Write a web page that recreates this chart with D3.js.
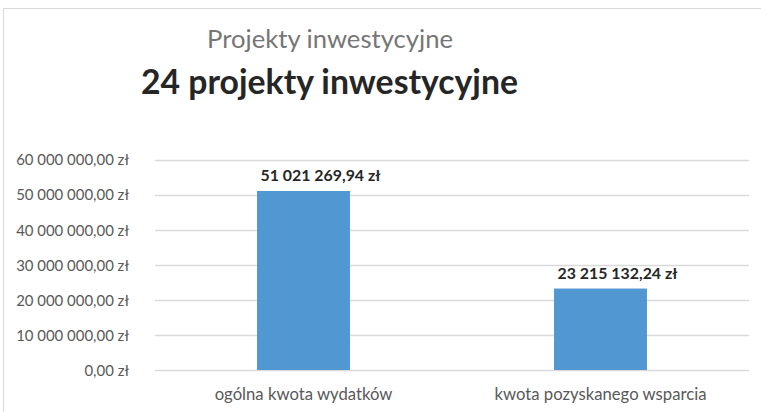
<!DOCTYPE html>
<html>
<head>
<meta charset="utf-8">
<script src="https://cdn.jsdelivr.net/npm/d3@7"></script>
<style>
  html, body { margin: 0; padding: 0; background: #fff; }
  svg { display: block; font-family: Lato, "Open Sans", sans-serif; }
</style>
</head>
<body>
<svg id="chart" width="761" height="412"></svg>
<script>
const categories = ["ogólna kwota wydatków", "kwota pozyskanego wsparcia"];
const values = [51021269.94, 23215132.24];
const valueLabels = ["51 021 269,94 zł", "23 215 132,24 zł"];
const yTicks = [0, 10000000, 20000000, 30000000, 40000000, 50000000, 60000000];
const yTickLabels = ["0,00 zł", "10 000 000,00 zł", "20 000 000,00 zł", "30 000 000,00 zł", "40 000 000,00 zł", "50 000 000,00 zł", "60 000 000,00 zł"];
const title1 = "Projekty inwestycyjne";
const title2 = "24 projekty inwestycyjne";

(function () {
const svg = d3.select("#chart");

// chart area border
svg.append("rect").attr("x", 3.5).attr("y", 8.5).attr("width", 820).attr("height", 500)
  .attr("fill", "#fff").attr("stroke", "#d9d9d9").attr("stroke-width", 1);

const pLeft = 155, pRight = 749, pTop = 159.5, pBottom = 370;

const x = d3.scaleBand().domain(categories).range([pLeft, pRight]).paddingInner(0.687).paddingOuter(0.3435);
const y = d3.scaleLinear().domain([0, 60000000]).range([pBottom, pTop]);

function fitWidth(sel, target) {
  sel.each(function() {
    const n = this;
    const fs = parseFloat(n.getAttribute("font-size"));
    const w = n.getComputedTextLength();
    if (w > 0) n.setAttribute("font-size", (fs * target / w).toFixed(2));
  });
}

// gridlines
svg.append("g").selectAll("line").data(yTicks).join("line")
  .attr("x1", pLeft).attr("x2", pRight)
  .attr("y1", d => Math.round(y(d)) + 0.5).attr("y2", d => Math.round(y(d)) + 0.5)
  .attr("stroke", "#d9d9d9").attr("stroke-width", 1.3);

// y axis labels
const yAxis = d3.axisLeft(y).tickValues(yTicks).tickFormat((d, i) => yTickLabels[i]).tickSize(0).tickPadding(26);
const gy = svg.append("g").attr("transform", `translate(${pLeft},0)`).call(yAxis);
gy.select(".domain").remove();
gy.selectAll("text").attr("fill", "#595959").attr("font-size", 15).attr("font-family", "Lato, sans-serif").attr("dy", "0.36em");
{
  const n = gy.selectAll("text").filter((d) => d === 60000000).node();
  const w = n.getComputedTextLength();
  const fs = 15 * 113 / w;
  gy.selectAll("text").attr("font-size", fs.toFixed(2));
}

// bars
svg.append("g").selectAll("rect").data(values).join("rect")
  .attr("x", (d, i) => x(categories[i]))
  .attr("y", d => y(d))
  .attr("width", x.bandwidth())
  .attr("height", d => y(0) - y(d))
  .attr("fill", "#5198d3");

// value labels
const vl = svg.append("g").selectAll("text").data(values).join("text")
  .attr("x", (d, i) => x(categories[i]) + x.bandwidth() / 2 + 17)
  .attr("y", d => y(d) - 10)
  .attr("text-anchor", "middle")
  .attr("font-weight", "bold")
  .attr("font-size", 15)
  .attr("fill", "#262626")
  .text((d, i) => valueLabels[i]);
fitWidth(vl, 120);

// x axis labels
const xAxis = d3.axisBottom(x).tickSize(0).tickPadding(18);
const gx = svg.append("g").attr("transform", `translate(0,${pBottom})`).call(xAxis);
gx.select(".domain").remove();
gx.selectAll("text").attr("fill", "#595959").attr("font-size", 16).attr("font-family", "Lato, sans-serif").attr("dy", "0.71em");
{
  const n = gx.selectAll("text").filter(d => d === categories[1]).node();
  const w = n.getComputedTextLength();
  gx.selectAll("text").attr("font-size", (16 * 212 / w).toFixed(2));
}

// titles
const t1 = svg.append("text").attr("x", 330).attr("y", 48).attr("text-anchor", "middle")
  .attr("font-size", 22).attr("fill", "#767676").text(title1);
fitWidth(t1, 246);
const t2 = svg.append("text").attr("x", 329.5).attr("y", 94).attr("text-anchor", "middle")
  .attr("font-size", 30).attr("font-weight", "bold").attr("fill", "#262626").text(title2);
fitWidth(t2, 377);
})();
</script>
</body>
</html>
